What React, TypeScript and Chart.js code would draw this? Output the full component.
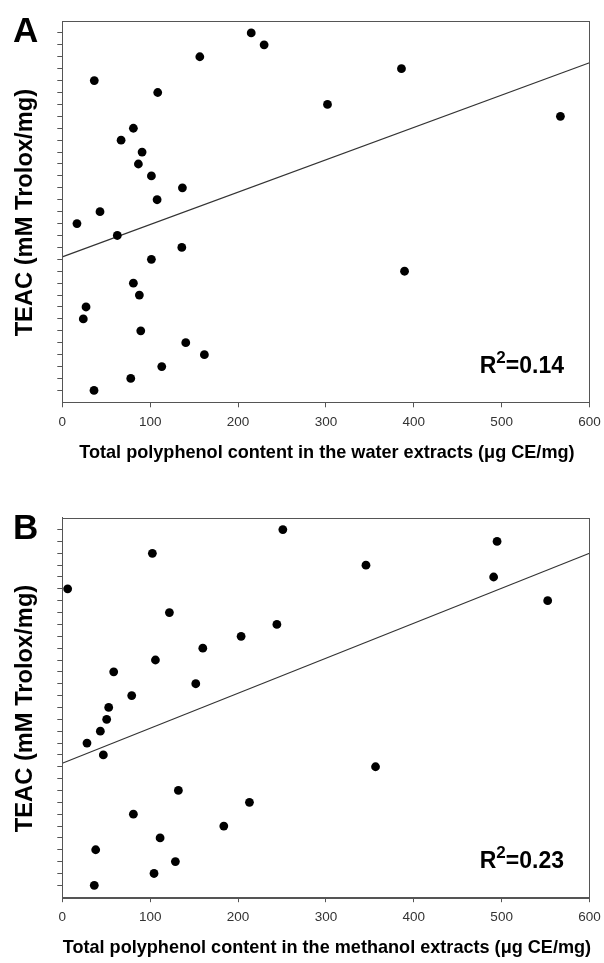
import React, { useEffect, useRef } from "react";
import { Chart, registerables } from "chart.js";

Chart.register(...registerables);

// ---- data ----
const X_TICK_STEP = 100;
const Y_TICKS = [1, 2, 3, 4, 5, 6, 7, 8, 9, 10, 11, 12, 13, 14, 15, 16, 17, 18, 19, 20, 21, 22, 23, 24, 25, 26, 27, 28, 29, 30, 31];

// Panel A: water extracts
const A_X = [36.1, 77.9, 113.2, 161.7, 140.5, 89.3, 23.9, 27.0, 87.7, 80.9, 389.5, 101.4, 136.0, 62.6, 16.7, 42.9, 107.9, 136.7, 101.4, 86.6, 90.8, 66.9, 80.9, 566.9, 301.8, 108.6, 36.4, 386.0, 156.5, 229.7, 215.0];
const A_Y = [1, 2, 3, 4, 5, 6, 7, 8, 9, 10, 11, 12, 13, 14, 15, 16, 17, 18, 19, 20, 21, 22, 23, 24, 25, 26, 27, 28, 29, 30, 31];
const A_TREND_X = [0, 600];
const A_TREND_Y = [12.2, 28.5];
const A_R2 = "0.14";

// Panel B: methanol extracts
const B_X = [36.4, 104.4, 128.7, 38.0, 111.3, 183.8, 80.9, 213.0, 132.1, 356.5, 46.7, 28.1, 43.3, 50.5, 52.8, 79.0, 151.9, 58.5, 106.0, 159.9, 203.5, 244.2, 121.9, 552.4, 6.1, 490.9, 345.6, 102.5, 494.8, 251.0];
const B_Y = [1, 2, 3, 4, 5, 6, 7, 8, 9, 11, 12, 13, 14, 15, 16, 17, 18, 19, 20, 21, 22, 23, 24, 25, 26, 27, 28, 29, 30, 31];
const B_TREND_X = [0, 600];
const B_TREND_Y = [11.3, 29.0];
const B_R2 = "0.23";

const FONT = '"Liberation Sans", Arial, Helvetica, sans-serif';
const AXIS_COLOR = "#555";

type PanelProps = {
  letter: string;
  xs: number[];
  ys: number[];
  trendX: number[];
  trendY: number[];
  r2: string;
  xTitle: string;
  height: number;
  padTop: number;
  xAxisHeight: number;
};

function Panel(props: PanelProps) {
  const ref = useRef<HTMLCanvasElement | null>(null);
  useEffect(() => {
    const canvas = ref.current;
    if (!canvas) return;
    const textPlugin = {
      id: "panelText",
      afterDraw(chart: any) {
        const { ctx, chartArea } = chart;
        const { left, right, top, bottom } = chartArea;
        ctx.save();
        // frame
        ctx.strokeStyle = AXIS_COLOR;
        ctx.lineWidth = 1;
        ctx.strokeRect(Math.round(left) + 0.5, Math.round(top) + 0.5, Math.round(right - left), Math.round(bottom - top));
        ctx.fillStyle = "#000";
        // panel letter
        ctx.font = `bold 35px ${FONT}`;
        ctx.textAlign = "left";
        ctx.textBaseline = "alphabetic";
        ctx.fillText(props.letter, 13, top + 21);
        // y title
        ctx.save();
        ctx.translate(32, (top + bottom) / 2 + 1);
        ctx.rotate(-Math.PI / 2);
        ctx.font = `bold 23.7px ${FONT}`;
        ctx.textAlign = "center";
        ctx.textBaseline = "alphabetic";
        ctx.fillText("TEAC (mM Trolox/mg)", 0, 0);
        ctx.restore();
        // x title
        ctx.font = `bold 18.1px ${FONT}`;
        ctx.textAlign = "center";
        ctx.textBaseline = "middle";
        ctx.fillText(props.xTitle, (left + right) / 2 + 1, bottom + 51);
        // R^2
        const base = bottom - 29.5;
        const rightX = 564;
        ctx.textAlign = "left";
        ctx.textBaseline = "alphabetic";
        ctx.font = `bold 23px ${FONT}`;
        const wR = ctx.measureText("R").width;
        const tail = "=" + props.r2;
        const wTail = ctx.measureText(tail).width;
        ctx.font = `bold 17px ${FONT}`;
        const wSup = ctx.measureText("2").width;
        let x = rightX - (wR + wSup + wTail);
        ctx.font = `bold 23px ${FONT}`;
        ctx.fillText("R", x, base);
        x += wR;
        ctx.font = `bold 17px ${FONT}`;
        ctx.fillText("2", x, base - 10);
        x += wSup;
        ctx.font = `bold 23px ${FONT}`;
        ctx.fillText(tail, x, base);
        ctx.restore();
      },
    };

    const chart = new Chart(canvas, {
      type: "scatter",
      data: {
        datasets: [
          {
            type: "scatter",
            data: props.xs.map((x, i) => ({ x, y: props.ys[i] })),
            pointRadius: 4.4,
            pointHoverRadius: 4.4,
            backgroundColor: "#000",
            borderColor: "#000",
            borderWidth: 0,
          },
          {
            type: "line",
            data: props.trendX.map((x, i) => ({ x, y: props.trendY[i] })),
            borderColor: "#333",
            borderWidth: 1.2,
            pointRadius: 0,
            fill: false,
          },
        ],
      } as any,
      options: {
        responsive: false,
        animation: false,
        events: [],
        plugins: { legend: { display: false }, tooltip: { enabled: false } },
        layout: { padding: { top: props.padTop, right: 14.5, left: 0, bottom: 0 } },
        scales: {
          x: {
            type: "linear",
            min: 0,
            max: 600,
            afterFit: (s: any) => {
              s.height = props.xAxisHeight;
              s.paddingLeft = 0;
              s.paddingRight = 0;
            },
            ticks: {
              stepSize: X_TICK_STEP,
              color: "#333",
              font: { family: FONT, size: 13.5 },
              padding: 7,
              maxRotation: 0,
            },
            grid: { drawOnChartArea: false, drawTicks: true, tickLength: 5, color: AXIS_COLOR, lineWidth: 1 },
            border: { display: true, color: AXIS_COLOR, width: 1 },
          },
          y: {
            type: "linear",
            min: 0,
            max: 32,
            afterFit: (s: any) => {
              s.width = 62.3;
              s.paddingTop = 0;
              s.paddingBottom = 0;
            },
            afterBuildTicks: (s: any) => {
              s.ticks = Y_TICKS.map((v) => ({ value: v }));
            },
            ticks: { display: false },
            grid: { drawOnChartArea: false, drawTicks: true, tickLength: 5, color: AXIS_COLOR, lineWidth: 1 },
            border: { display: true, color: AXIS_COLOR, width: 1 },
          },
        },
      } as any,
      plugins: [textPlugin],
    });
    return () => chart.destroy();
  }, []);
  return <canvas ref={ref} width={604} height={props.height} style={{ display: "block", width: 604, height: props.height }} />;
}

export default function App() {
  return (
    <div style={{ position: "absolute", left: 0, top: 0, width: 604, height: 963, background: "#fff" }}>
      <Panel
        letter="A"
        xs={A_X}
        ys={A_Y}
        trendX={A_TREND_X}
        trendY={A_TREND_Y}
        r2={A_R2}
        xTitle="Total polyphenol content in the water extracts (μg CE/mg)"
        height={490}
        padTop={21}
        xAxisHeight={490 - 402.3}
      />
      <Panel
        letter="B"
        xs={B_X}
        ys={B_Y}
        trendX={B_TREND_X}
        trendY={B_TREND_Y}
        r2={B_R2}
        xTitle="Total polyphenol content in the methanol extracts (μg CE/mg)"
        height={473}
        padTop={27.7}
        xAxisHeight={473 - 407.2}
      />
    </div>
  );
}
